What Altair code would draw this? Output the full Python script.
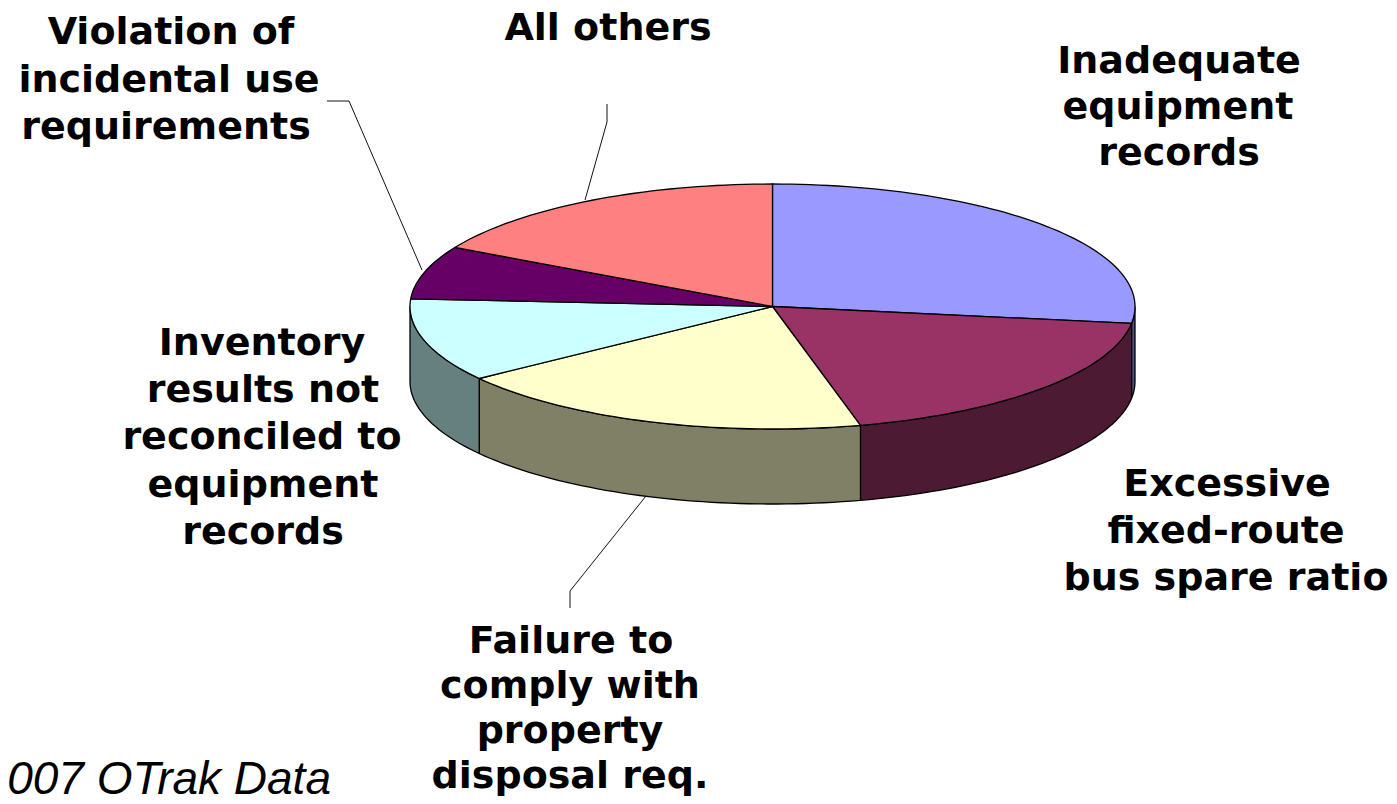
import math
import altair as alt
import pandas as pd

# Slice shares (percent), clockwise from 12 o'clock
categories = ["Inadequate equipment records", "Excessive fixed-route bus spare ratio",
              "Failure to comply with property disposal req.",
              "Inventory results not reconciled to equipment records",
              "Violation of incidental use requirements", "All others"]
shares = [27.2, 18.9, 18.9, 11.0, 7.0, 17.0]
top_colors = ["#9999FF", "#993366", "#FFFFCC", "#CCFFFF", "#660066", "#FF8080"]
side_colors = ["#4D4D80", "#4D1A33", "#808066", "#668080", "#330033", "#804040"]

label_text = ["Violation of", "incidental use", "requirements", "All others",
              "Inadequate", "equipment", "records",
              "Inventory", "results not", "reconciled to", "equipment", "records",
              "Excessive", "fixed-route", "bus spare ratio",
              "Failure to", "comply with", "property", "disposal req."]
label_x = [171, 169, 166, 608, 1179, 1178, 1179, 262, 263, 262, 263, 263,
           1227, 1226, 1226, 571, 570, 570, 570]
label_y = [44, 92, 139, 40, 73, 119, 165, 355, 402, 449, 497, 544,
           496, 543, 590, 653, 698, 743, 788]

leader_id = ["a", "a", "a", "b", "b", "b", "c", "c", "c"]
leader_x = [327, 349, 422, 607, 607, 585, 646, 570, 570]
leader_y = [101, 101, 270, 104, 122, 200, 496, 591, 608]

CX, CY, RX, RY, DEPTH = 772.5, 306.5, 362.5, 122.5, 75


def pt(deg, drop=0.0):
    a = math.radians(deg)
    return CX + RX * math.sin(a), CY - RY * math.cos(a) + drop


def arc(a0, a1):
    n = max(2, int(abs(a1 - a0) / 1.5) + 2)
    return [a0 + (a1 - a0) * i / (n - 1) for i in range(n)]


total = sum(shares)
tops, sides = [], []
start = 0.0
for i, s in enumerate(shares):
    end = start + s / total * 360
    poly = [(CX, CY)] + [pt(d) for d in arc(start, end)] + [(CX, CY)]
    for k, (x, y) in enumerate(poly):
        tops.append({"face": f"t{i}", "x": x, "y": y, "k": k})
    f0, f1 = max(start, 90), min(end, 270)
    if f1 > f0:
        ds = arc(f0, f1)
        poly = [pt(d) for d in ds] + [pt(d, DEPTH) for d in reversed(ds)] + [pt(f0)]
        for k, (x, y) in enumerate(poly):
            sides.append({"face": f"s{i}", "x": x, "y": y, "k": k})
    start = end

xs = alt.Scale(domain=[8, 1389], range=[0, 1381], nice=False, zero=False)
ys = alt.Scale(domain=[8, 796], range=[0, 788], nice=False, zero=False)
X = alt.X("x:Q", scale=xs, axis=None)
Y = alt.Y("y:Q", scale=ys, axis=None)

face_dom = [f"s{i}" for i in range(6)] + [f"t{i}" for i in range(6)]
face_rng = side_colors + top_colors
fill = alt.Fill("face:N", scale=alt.Scale(domain=face_dom, range=face_rng), legend=None)


def faces(rows):
    return alt.Chart(pd.DataFrame(rows)).mark_line(
        stroke="black", strokeWidth=1.3, strokeJoin="round", clip=False
    ).encode(x=X, y=Y, fill=fill, detail="face:N", order="k:Q")


leaders = alt.Chart(pd.DataFrame({"x": leader_x, "y": leader_y, "id": leader_id, "k": range(9)})).mark_line(
    color="#111111", strokeWidth=1
).encode(x=X, y=Y, detail="id:N", order="k:Q")

labels = alt.Chart(pd.DataFrame({"x": label_x, "y": label_y, "t": label_text})).mark_text(
    font="DejaVu Sans", fontWeight="bold", fontSize=38, align="center", baseline="alphabetic", color="black"
).encode(x=X, y=Y, text="t:N")

note = alt.Chart(pd.DataFrame({"x": [331], "y": [794], "t": ["2007 OTrak Data"]})).mark_text(
    font="Liberation Sans", fontStyle="italic", fontSize=46, align="right", baseline="alphabetic", color="black"
).encode(x=X, y=Y, text="t:N")

chart = alt.layer(leaders, faces(sides), faces(tops), labels, note).properties(
    width=1381, height=788, padding=0, background="white",
    autosize=alt.AutoSizeParams(type="none")
).configure_view(stroke=None)

chart.save("out.html", embed_options={"renderer": "svg", "actions": False})
